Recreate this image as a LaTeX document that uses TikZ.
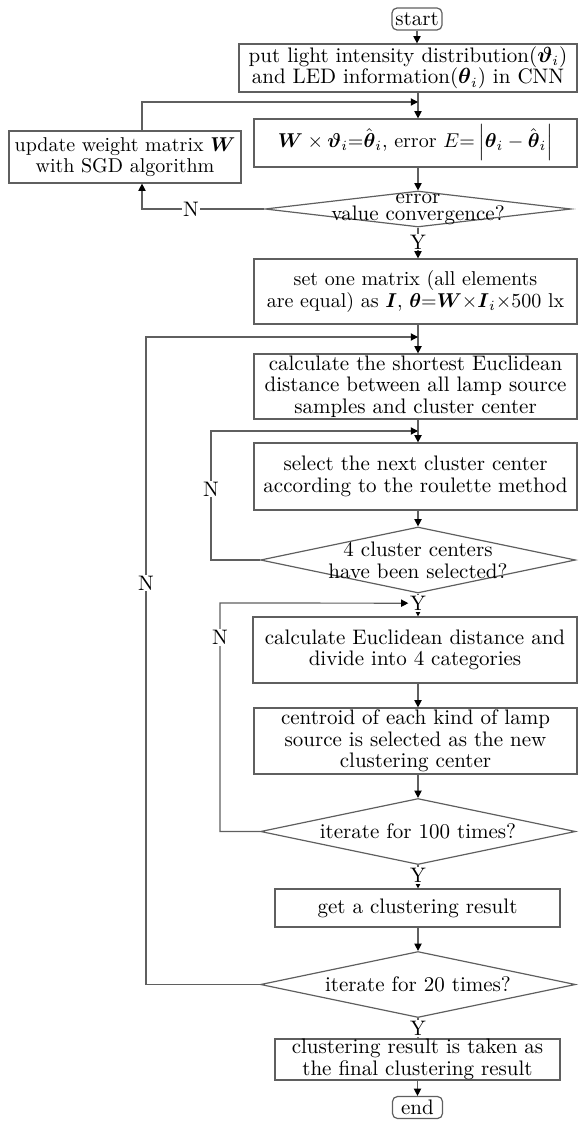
\documentclass[tikz,border=0pt]{standalone}
\usepackage{amsmath}
\usepackage{tikz}
\usetikzlibrary{arrows.meta, shapes.geometric, positioning}

\definecolor{linegray}{RGB}{95,95,95}
\tikzset{
	process/.style={draw=linegray, line width=0.6pt, align=center, inner xsep=1.5pt, inner ysep=0.8pt, font=\fontsize{10.5}{10.7}\selectfont},
	smaller/.style={font=\fontsize{10}{10.7}\selectfont},
	startstop/.style={draw=linegray, line width=0.6pt, rounded corners=2.5pt, inner sep=1pt, minimum width=25pt, minimum height=11pt, font=\fontsize{10.5}{10.7}\selectfont},
	decision/.style={diamond, draw=linegray, line width=0.6pt, inner sep=0pt, minimum width=157.5pt, minimum height=33pt},
	flow/.style={draw=linegray, line width=0.6pt, -{Triangle[length=3.6pt, width=3.6pt, color=black]}},
	yn/.style={fill=white, inner sep=0.6pt, font=\fontsize{10.5}{10.7}\selectfont},
}

\begin{document}
\begin{tikzpicture}[x=0.5pt, y=-0.5pt]
	\useasboundingbox (0,0) rectangle (578,1123);
	\clip (0,0) rectangle (578,1123);

	\node (start) [startstop] at (417,19) {start};
	\node (input) [process, minimum width=169pt, minimum height=24pt] at (408,68)
		{put light intensity distribution($\boldsymbol{\vartheta}_i$)\\and LED information($\boldsymbol{\theta}_i$) in CNN};
	\node (predict) [process, smaller, minimum width=161.5pt, minimum height=24pt] at (415.5,143)
		{$\boldsymbol{W}\times\boldsymbol{\vartheta}_i{=}\hat{\boldsymbol{\theta}}_i$, error $E{=}\left|\boldsymbol{\theta}_i-\hat{\boldsymbol{\theta}}_i\right|$};
	\node (update) [process, smaller, minimum width=116pt, minimum height=26pt] at (125,157)
		{update weight matrix $\boldsymbol{W}$\\with SGD algorithm};
	\node (converge) [decision, minimum width=153pt, minimum height=18pt,
		label={[align=center, font=\fontsize{10.5}{7}\selectfont]center:error\\value convergence?}] at (418,209) {};
	\node (setone) [process, smaller, minimum width=161.5pt, minimum height=32.5pt] at (415.5,291.5)
		{set one matrix (all elements\\are equal) as $\boldsymbol{I}$, $\boldsymbol{\theta}{=}\boldsymbol{W}{\times}\boldsymbol{I}_i{\times}$500 lx};
	\node (shortest) [process, minimum width=161.5pt, minimum height=32.5pt] at (415.5,386.5)
		{calculate the shortest Euclidean\\distance between all lamp source\\samples and cluster center};
	\node (select) [process, minimum width=161.5pt, minimum height=33.5pt] at (415.5,476.5)
		{select the next cluster center\\according to the roulette method};
	\node (selected) [decision, label={[align=center, font=\fontsize{10.5}{11}\selectfont]center:4 cluster centers\\have been selected?}] at (418,560) {};
	\node (euclid) [process, minimum width=162pt, minimum height=33pt] at (415,650)
		{calculate Euclidean distance and\\divide into 4 categories};
	\node (centroid) [process, minimum width=161.5pt, minimum height=33pt] at (415.5,741)
		{centroid of each kind of lamp\\source is selected as the new\\clustering center};
	\node (iter100) [decision, label={[font=\fontsize{10.5}{11}\selectfont]center:iterate for 100 times?}] at (418,831.5) {};
	\node (getres) [process, minimum width=142.5pt, minimum height=19pt] at (417.5,908)
		{get a clustering result};
	\node (iter20) [decision, label={[font=\fontsize{10.5}{11}\selectfont]center:iterate for 20 times?}] at (418,984.5) {};
	\node (final) [process, inner ysep=0pt, minimum width=142.5pt, minimum height=20.5pt] at (417.5,1059.5)
		{clustering result is taken as\\the final clustering result};
	\node (end) [startstop] at (417.5,1107.5) {end};

	\coordinate (join1) at (418,102);
	\coordinate (join2) at (418,337);
	\coordinate (join3) at (418,431);
	\coordinate (loop1) at (211,431);
	\coordinate (loop2) at (220,603);
	\coordinate (loop3) at (146,337);

	\draw [flow] (start) -- (start |- input.north);
	\draw [flow] (input.south -| join1) -- (predict.north -| join1);
	\draw [flow] ([xshift=8.5pt]update.north) |- (join1);
	\draw [flow] (predict.south -| join1) -- (converge.north);
	\draw [flow] (converge.west) -| node [yn, pos=0.3] {N} ([xshift=8.5pt]update.south);
	\draw [flow] (converge.south) -- node [yn, pos=0.47] {Y} (converge.south |- setone.north);
	\draw [flow] (setone.south -| join2) -- (shortest.north -| join2);
	\draw [flow] (shortest.south -| join3) -- (select.north -| join3);
	\draw [flow] (select.south -| selected) -- (selected.north);
	\draw [flow] (selected.west) -| node [yn, pos=0.775] {N} (loop1) -- (join3);
	\draw [flow] (selected.south) -- node [yn, pos=0.42] (again) {Y} (selected.south |- euclid.north);
	\draw [flow] (euclid.south -| selected) -- (centroid.north -| selected);
	\draw [flow] (centroid.south -| selected) -- (iter100.north);
	\draw [flow] (iter100.west) -| node [yn, pos=0.925] {N} (loop2) -- (again.west);
	\draw [flow] (iter100.south) -- node [yn, pos=0.44] {Y} (iter100.south |- getres.north);
	\draw [flow] (getres.south -| iter20) -- (iter20.north);
	\draw [flow] (iter20.west) -| node [yn, pos=0.81] {N} (loop3) -- (join2);
	\draw [flow] (iter20.south) -- node [yn, pos=0.5] {Y} (iter20.south |- final.north);
	\draw [flow] (final.south -| end) -- (end);
\end{tikzpicture}
\end{document}
